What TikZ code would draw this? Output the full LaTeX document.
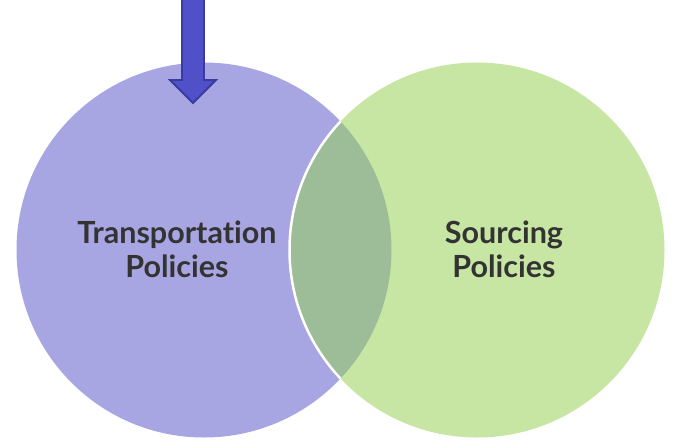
\documentclass[tikz,border=0pt]{standalone}
\usepackage{fontspec}
\setmainfont{Lato}[Ligatures=NoCommon]
\definecolor{transPurple}{RGB}{167,166,227}
\definecolor{sourceGreen}{RGB}{199,230,164}
\definecolor{overlapGreen}{RGB}{157,188,152}
\definecolor{arrowBlue}{RGB}{80,80,200}
\definecolor{arrowEdge}{RGB}{58,58,160}
\definecolor{labelGray}{RGB}{51,51,51}
\usetikzlibrary{positioning}
\tikzset{
  setlabel/.style={font=\bfseries\fontsize{30.5}{34}\selectfont,text=labelGray,align=center}
}
\begin{document}
\begin{tikzpicture}[x=1pt,y=-1pt]
  \useasboundingbox (0,0) rectangle (682,447);
  % (a) Transportation set
  \fill[transPurple] (204,250) circle[radius=187.5];
  % (b) Sourcing set
  \fill[sourceGreen] (477,250) circle[radius=187.5];
  % (c) Overlap
  \begin{scope}
    \clip (204,250) circle[radius=187.5];
    \fill[overlapGreen] (477,250) circle[radius=187.5];
    \draw[white,line width=2.5pt] (477,250) circle[radius=187.5];
  \end{scope}
  % arrow from the top
  \draw[arrowEdge,fill=arrowBlue,line width=1.8pt,line join=miter]
    (182,-3) -- (182,80) -- (170,80) -- (193,103) -- (216,80) -- (204,80) -- (204,-3) -- cycle;
  \node[setlabel] (transLabel) at (177,249) {Transportation\\Policies};
  \node[setlabel] (sourceLabel) at (504,249) {Sourcing\\Policies};
\end{tikzpicture}
\end{document}
